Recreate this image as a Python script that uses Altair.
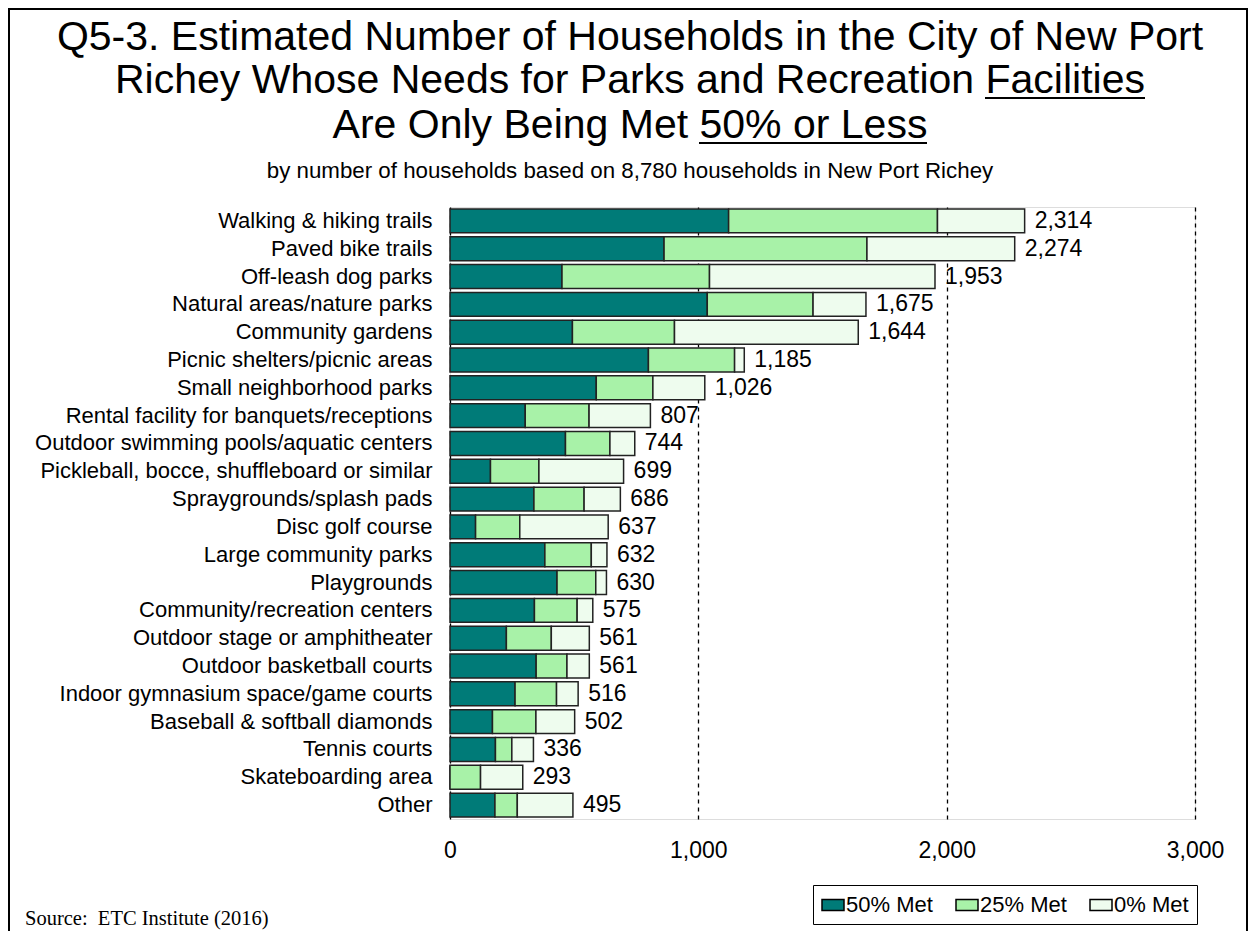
import altair as alt
import pandas as pd

categories = [
    "Walking & hiking trails", "Paved bike trails", "Off-leash dog parks",
    "Natural areas/nature parks", "Community gardens", "Picnic shelters/picnic areas",
    "Small neighborhood parks", "Rental facility for banquets/receptions",
    "Outdoor swimming pools/aquatic centers", "Pickleball, bocce, shuffleboard or similar",
    "Spraygrounds/splash pads", "Disc golf course", "Large community parks",
    "Playgrounds", "Community/recreation centers", "Outdoor stage or amphitheater",
    "Outdoor basketball courts", "Indoor gymnasium space/game courts",
    "Baseball & softball diamonds", "Tennis courts", "Skateboarding area", "Other",
]
met50 = [1122, 862, 451, 1036, 493, 799, 589, 303, 465, 163, 338, 103, 382, 431, 340, 227, 347, 262, 171, 183, 0, 181]
met25 = [841, 817, 594, 426, 411, 347, 228, 257, 179, 195, 202, 178, 187, 156, 172, 181, 124, 167, 175, 66, 123, 90]
met0 = [351, 595, 908, 213, 740, 39, 209, 247, 100, 341, 146, 356, 63, 43, 63, 153, 90, 87, 156, 87, 170, 224]
totals = [2314, 2274, 1953, 1675, 1644, 1185, 1026, 807, 744, 699, 686, 637, 632, 630, 575, 561, 561, 516, 502, 336, 293, 495]

series = ["50% Met", "25% Met", "0% Met"]
colors = ["#007b78", "#a8f2a8", "#eefcee"]

title_lines = ["Q5-3. Estimated Number of Households in the City of New Port",
               "Richey Whose Needs for Parks and Recreation Facilities",
               "Are Only Being Met 50% or Less"]
subtitle = "by number of households based on 8,780 households in New Port Richey"
source_note = "Source:\u00a0 ETC Institute (2016)"

rows = []
for i, c in enumerate(categories):
    for k, (s, vals) in enumerate(zip(series, [met50, met25, met0])):
        rows.append({"category": c, "series": s, "value": vals[i], "order": k})
df = pd.DataFrame(rows)
tot_df = pd.DataFrame({"category": categories, "total": totals})

FONT = "Liberation Sans"

y_enc = alt.Y("category:N", sort=categories, title=None,
              scale=alt.Scale(paddingInner=0.14, paddingOuter=0.07),
              axis=alt.Axis(labelFontSize=22, labelFont=FONT, labelColor="black",
                            ticks=False, domain=False, labelPadding=18, labelLimit=500))

bars = alt.Chart(df).mark_bar(stroke="#222222", strokeWidth=1.5).encode(
    x=alt.X("value:Q", stack="zero", title=None,
            scale=alt.Scale(domain=[0, 3000], nice=False),
            axis=alt.Axis(values=[0, 1000, 2000, 3000], format=",d", labelFontSize=23,
                          labelFont=FONT, labelColor="black", ticks=False, domain=False,
                          labelPadding=20, grid=True, gridColor="black", gridWidth=1.3,
                          gridDash=[4, 4], labelFlush=False)),
    y=y_enc,
    color=alt.Color("series:N", sort=series,
                    scale=alt.Scale(domain=series, range=colors),
                    legend=alt.Legend(title=None, orient="none", legendX=363, legendY=678,
                                      direction="horizontal", strokeColor="black",
                                      fillColor="white", padding=8, labelFontSize=22,
                                      labelFont=FONT, labelColor="black",
                                      symbolType="M-1,-0.5H1V0.5H-1Z",
                                      symbolSize=484, symbolStrokeColor="black",
                                      symbolStrokeWidth=1.5, symbolOpacity=1,
                                      labelOffset=1, columnPadding=20)),
    order=alt.Order("order:Q"),
)

labels = alt.Chart(tot_df).mark_text(align="left", baseline="middle", dx=10,
                                      fontSize=23, font=FONT, color="black").encode(
    x=alt.X("total:Q"),
    y=alt.Y("category:N", sort=categories),
    text=alt.Text("total:Q", format=","),
)

dummy = pd.DataFrame({"k": [0]})

def text_line(txt, y, size, font=FONT, align="center", x=180):
    return alt.Chart(dummy).mark_text(
        text=txt, align=align, baseline="alphabetic", fontSize=size, font=font, color="black"
    ).encode(x=alt.value(x), y=alt.value(y))

t1 = text_line(title_lines[0], -157, 41)
t2 = text_line(title_lines[1], -114, 41)
t3 = text_line(title_lines[2], -69, 41)
sub = text_line(subtitle, -29, 22.3)
source = text_line(source_note, 718, 20.5, font="Liberation Serif", align="left", x=-425)

underline = alt.Chart(dummy).mark_rule(color="black", strokeWidth=2.2)
ul1 = underline.encode(x=alt.value(535), x2=alt.value(695), y=alt.value(-109))
ul2 = underline.encode(x=alt.value(249), x2=alt.value(477), y=alt.value(-64))

frame = alt.Chart(dummy).mark_rect(filled=False, stroke="black", strokeWidth=2).encode(
    x=alt.value(-441), x2=alt.value(797), y=alt.value(-198), y2=alt.value(800))

chart = alt.layer(bars, labels, t1, t2, t3, sub, source, ul1, ul2, frame).properties(
    width=745, height=612,
    autosize=alt.AutoSizeParams(type="none"),
    padding={"left": 442, "top": 199, "right": 54, "bottom": 112},
).configure_view(stroke="black", strokeWidth=1.2).configure(background="white")

chart.save("out.html", embed_options={"renderer": "svg", "actions": False})
